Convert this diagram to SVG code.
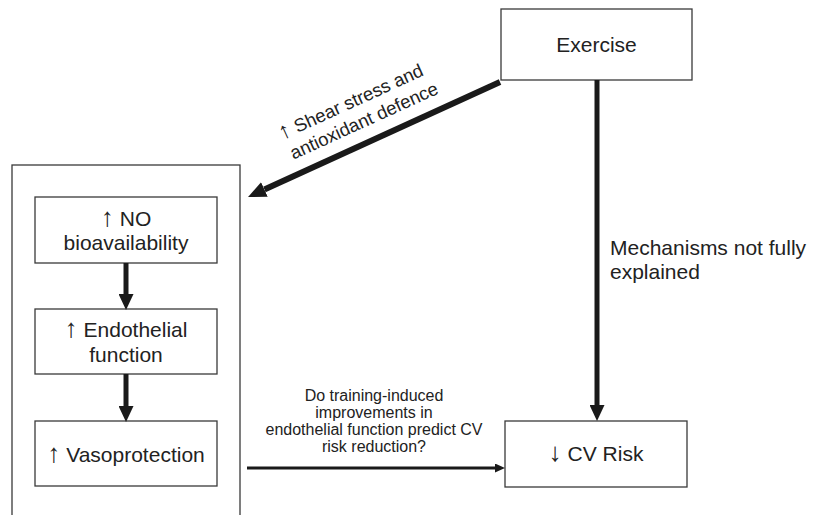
<svg xmlns="http://www.w3.org/2000/svg" width="817" height="515" viewBox="0 0 817 515">
<defs>
<style>
.box{fill:#fff;stroke:#3a3a3a;stroke-width:1.3}
.t{font-family:"Liberation Sans",Arial,sans-serif;fill:#222;font-size:21px;text-anchor:middle}
.q{font-family:"Liberation Sans",Arial,sans-serif;fill:#222;font-size:16px;text-anchor:middle}
.d{font-family:"Liberation Sans",Arial,sans-serif;fill:#222;font-size:18.5px;text-anchor:middle}
.m{font-family:"Liberation Sans",Arial,sans-serif;fill:#222;font-size:21px}
.ar{font-size:1.25em}
.c{stroke:#1a1a1a;fill:none}
</style>
<marker id="hBig" viewBox="0 -8 18 16" refX="0" refY="0" markerWidth="18" markerHeight="16" markerUnits="userSpaceOnUse" orient="auto">
<path d="M0,-8 L18,0 L0,8 Z" fill="#1a1a1a"/>
</marker>
<marker id="hMid" viewBox="0 -7.5 16 15" refX="0" refY="0" markerWidth="16" markerHeight="15" markerUnits="userSpaceOnUse" orient="auto">
<path d="M0,-7.5 L16,0 L0,7.5 Z" fill="#1a1a1a"/>
</marker>
<marker id="hSmall" viewBox="0 -4.5 10 9" refX="0" refY="0" markerWidth="10" markerHeight="9" markerUnits="userSpaceOnUse" orient="auto">
<path d="M0,-4.5 L10,0 L0,4.5 Z" fill="#1a1a1a"/>
</marker>
</defs>
<rect width="817" height="515" fill="#fff"/>

<g id="endothelium-group">
<rect class="box" x="12" y="165" width="228" height="360"/>
</g>
<g id="exercise">
<rect class="box" x="501" y="9" width="191" height="71"/>
<text class="t" x="596.5" y="52">Exercise</text>
</g>
<g id="no-bioavailability">
<rect class="box" x="35" y="197" width="182" height="66"/>
<text class="t" x="126" y="226"><tspan class="ar">↑</tspan> NO</text>
<text class="t" x="126" y="250">bioavailability</text>
</g>
<g id="endothelial-function">
<rect class="box" x="35" y="309" width="182" height="65"/>
<text class="t" x="126" y="337"><tspan class="ar">↑</tspan> Endothelial</text>
<text class="t" x="126" y="362">function</text>
</g>
<g id="vasoprotection">
<rect class="box" x="35" y="421" width="182" height="65"/>
<text class="t" x="126" y="462"><tspan class="ar">↑</tspan> Vasoprotection</text>
</g>
<g id="cv-risk">
<rect class="box" x="505" y="421" width="182" height="66"/>
<text class="t" x="596" y="461"><tspan class="ar">↓</tspan> CV Risk</text>
</g>

<g id="connectors">
<line class="c" x1="500" y1="82" x2="264.4" y2="189.5" stroke-width="6" marker-end="url(#hBig)"/>
<line class="c" x1="597" y1="80" x2="597" y2="405" stroke-width="5" marker-end="url(#hMid)"/>
<line class="c" x1="126" y1="263" x2="126" y2="294" stroke-width="5" marker-end="url(#hMid)"/>
<line class="c" x1="126" y1="374" x2="126" y2="406" stroke-width="5" marker-end="url(#hMid)"/>
<line class="c" x1="247" y1="468" x2="495" y2="468" stroke-width="3" marker-end="url(#hSmall)"/>
</g>

<g id="labels">
<g transform="translate(353.5,107.5) rotate(-24.5)">
<text class="d" x="0" y="0"><tspan class="ar">↑</tspan> Shear stress and</text>
<text class="d" x="4" y="22.7">antioxidant defence</text>
</g>
<text class="m" x="610" y="255">Mechanisms not fully</text>
<text class="m" x="610" y="279">explained</text>
<text class="q" x="374" y="401">Do training-induced</text>
<text class="q" x="374" y="418">improvements in</text>
<text class="q" x="374" y="435">endothelial function predict CV</text>
<text class="q" x="374" y="451.5">risk reduction?</text>
</g>
</svg>
